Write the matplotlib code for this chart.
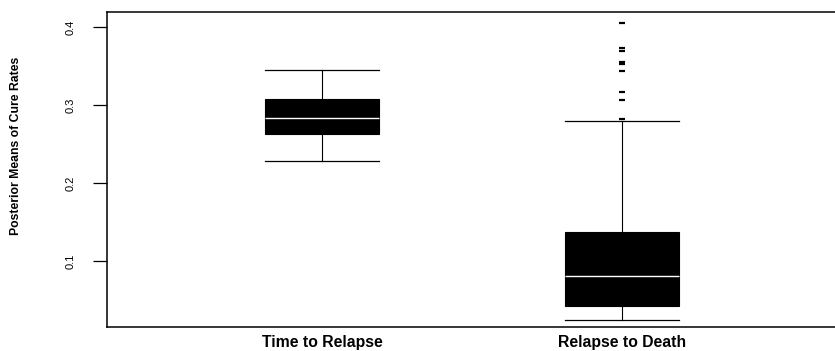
import matplotlib
matplotlib.use("Agg")
import matplotlib.pyplot as plt

categories = ["Time to Relapse", "Relapse to Death"]
whislo = [0.2282, 0.0244]
q1 = [0.2628, 0.0423]
med = [0.2833, 0.0808]
q3 = [0.3077, 0.1372]
whishi = [0.3450, 0.2795]
fliers = [[], [0.4047, 0.3735, 0.3696, 0.3551, 0.3526, 0.3436, 0.3171, 0.3064, 0.2817]]
yticks = [0.1, 0.2, 0.3, 0.4]
ytick_labels = ["0.1", "0.2", "0.3", "0.4"]

fig = plt.figure(figsize=(8.35, 3.51), dpi=100)
ax = fig.add_axes([107/835, 1-327/351, (835-107)/835, (327-12)/351])

stats = []
for i, c in enumerate(categories):
    stats.append(dict(label=c, whislo=whislo[i], q1=q1[i], med=med[i],
                      q3=q3[i], whishi=whishi[i], fliers=fliers[i]))

ax.bxp(stats, positions=[1, 2], widths=0.38, patch_artist=True,
       boxprops=dict(facecolor="black", edgecolor="black", linewidth=0.8),
       medianprops=dict(color="white", linewidth=1.0),
       whiskerprops=dict(color="black", linewidth=0.8),
       capprops=dict(color="black", linewidth=0.9),
       capwidths=0.38,
       flierprops=dict(marker="_", markersize=4, markeredgewidth=1.6,
                       markeredgecolor="black", linestyle="none"))

ax.set_xlim(1 - 215/300, 2 + 213/300)
ax.set_ylim(0.4 - (327-27)/780, 0.4 + 15/780)

ax.spines["right"].set_visible(False)
for s in ["left", "top", "bottom"]:
    ax.spines[s].set_linewidth(1.1)

ax.set_yticks(yticks)
ax.set_yticklabels(ytick_labels, rotation=90, va="center", ha="center", fontsize=8,
                   family="Liberation Sans")
ax.tick_params(axis="y", length=10, width=0.9, pad=16)
ax.tick_params(axis="x", length=0, pad=6)
ax.set_xticks([1, 2])
ax.set_xticklabels(categories, fontsize=11.3, fontweight="bold", family="Liberation Sans")
ax.set_ylabel("Posterior Means of Cure Rates", fontsize=8.8, fontweight="bold",
              family="Liberation Sans")
ax.yaxis.label.set(va="center", ha="center")
ax.yaxis.set_label_coords((16-107)/728, (327-146)/315)

fig.savefig("out.png", dpi=100)
